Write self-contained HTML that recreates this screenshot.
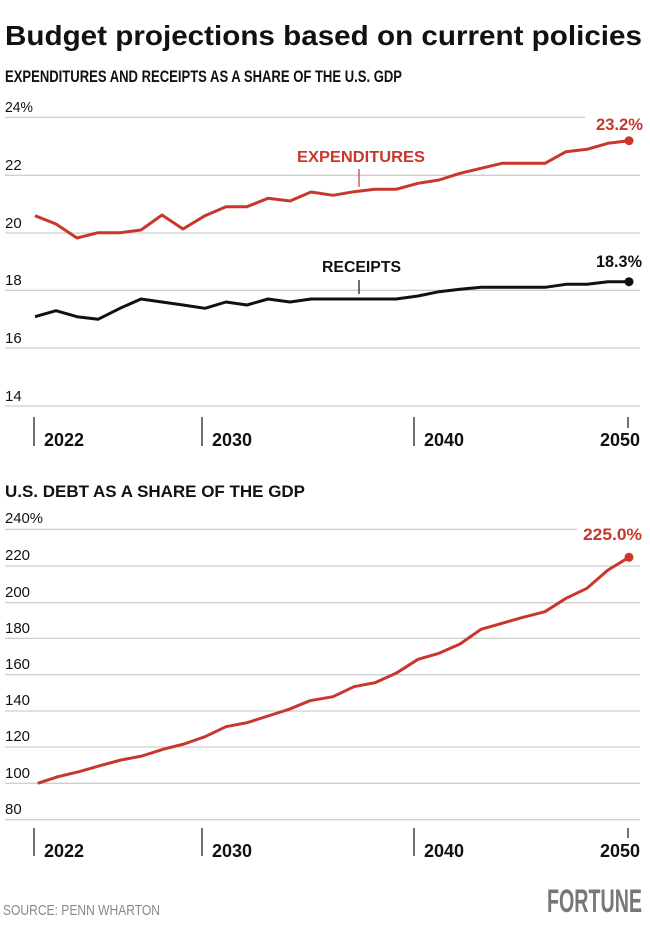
<!DOCTYPE html>
<html><head><meta charset="utf-8"><style>
html,body{margin:0;padding:0;background:#fff;}
svg{display:block;}
text{font-family:"Liberation Sans",sans-serif;}
</style></head><body>
<svg width="650" height="931" viewBox="0 0 650 931" xmlns="http://www.w3.org/2000/svg">
<text x="5" y="45" font-size="28" font-weight="bold" fill="#111" textLength="637" lengthAdjust="spacingAndGlyphs">Budget projections based on current policies</text>
<text x="5" y="82" font-size="17" font-weight="bold" fill="#111" textLength="397" lengthAdjust="spacingAndGlyphs">EXPENDITURES AND RECEIPTS AS A SHARE OF THE U.S. GDP</text>

<g stroke="#cfcfcf" stroke-width="1.3">
<line x1="5" x2="585" y1="117.3" y2="117.3"/>
<line x1="5" x2="640" y1="175.3" y2="175.3"/>
<line x1="5" x2="640" y1="233" y2="233"/>
<line x1="5" x2="640" y1="290.3" y2="290.3"/>
<line x1="5" x2="640" y1="348" y2="348"/>
<line x1="5" x2="640" y1="406" y2="406"/>
</g>
<g font-size="15" fill="#111">
<text x="5" y="112" textLength="28" lengthAdjust="spacingAndGlyphs">24%</text>
<text x="5" y="170">22</text>
<text x="5" y="228">20</text>
<text x="5" y="285">18</text>
<text x="5" y="343">16</text>
<text x="5" y="401">14</text>
</g>
<g stroke="#111" stroke-width="1.2">
<line x1="34" x2="34" y1="417" y2="446"/>
<line x1="202" x2="202" y1="417" y2="446"/>
<line x1="414" x2="414" y1="417" y2="446"/>
<line x1="628" x2="628" y1="417" y2="428"/>
</g>
<g font-size="18" font-weight="bold" fill="#111">
<text x="44" y="446">2022</text>
<text x="212" y="446">2030</text>
<text x="424" y="446">2040</text>
<text x="600" y="446">2050</text>
</g>

<polyline fill="none" stroke="#c9372c" stroke-width="3" stroke-linejoin="round" points="35,215.7 56,224 77,238 98,232.7 120,232.7 141,230 162,215 183,229 205,215.7 226,206.7 247,206.7 268,198.3 290,201 311,192 333,195.3 354,191.7 375,189.3 396,189.3 418,183.3 439,180 460,173.3 481,168.3 502,163.3 523,163.3 545,163.3 566,151.7 587,149.3 608,143.3 629,140.7"/>
<circle cx="629" cy="140.7" r="4.5" fill="#c9372c"/>
<polyline fill="none" stroke="#111" stroke-width="3" stroke-linejoin="round" points="35,316.7 56,310.7 77,316.7 98,319.3 120,308.3 141,299 162,302 183,305 205,308.3 226,302 247,305 268,299 290,302 311,299 333,299 354,299 375,299 396,299 418,296 439,291.7 460,289.3 481,287.3 502,287.3 523,287.3 545,287.3 566,284.3 587,284.3 608,281.7 629,281.7"/>
<circle cx="629" cy="281.7" r="4.5" fill="#111"/>

<text x="297" y="162" font-size="16" font-weight="bold" fill="#c9372c" textLength="128" lengthAdjust="spacingAndGlyphs">EXPENDITURES</text>
<line x1="359" x2="359" y1="169" y2="187" stroke="#c9372c" stroke-width="1.2"/>
<text x="322" y="272" font-size="16" font-weight="bold" fill="#111" textLength="79" lengthAdjust="spacingAndGlyphs">RECEIPTS</text>
<line x1="359" x2="359" y1="280" y2="294" stroke="#111" stroke-width="1.2"/>
<text x="596" y="130" font-size="17" font-weight="bold" fill="#c9372c" textLength="47" lengthAdjust="spacingAndGlyphs">23.2%</text>
<text x="596" y="267" font-size="17" font-weight="bold" fill="#111" textLength="46" lengthAdjust="spacingAndGlyphs">18.3%</text>

<text x="5" y="497" font-size="17" font-weight="bold" fill="#111" textLength="300" lengthAdjust="spacingAndGlyphs">U.S. DEBT AS A SHARE OF THE GDP</text>
<g stroke="#cfcfcf" stroke-width="1.3">
<line x1="5" x2="577" y1="529.3" y2="529.3"/>
<line x1="5" x2="640" y1="566" y2="566"/>
<line x1="5" x2="640" y1="602.7" y2="602.7"/>
<line x1="5" x2="640" y1="638.3" y2="638.3"/>
<line x1="5" x2="640" y1="674.7" y2="674.7"/>
<line x1="5" x2="640" y1="711" y2="711"/>
<line x1="5" x2="640" y1="747" y2="747"/>
<line x1="5" x2="640" y1="783.3" y2="783.3"/>
<line x1="5" x2="640" y1="819.7" y2="819.7"/>
</g>
<g font-size="15" fill="#111">
<text x="5" y="523" textLength="38" lengthAdjust="spacingAndGlyphs">240%</text>
<text x="5" y="560">220</text>
<text x="5" y="597">200</text>
<text x="5" y="633">180</text>
<text x="5" y="669">160</text>
<text x="5" y="705">140</text>
<text x="5" y="741">120</text>
<text x="5" y="778">100</text>
<text x="5" y="814">80</text>
</g>
<g stroke="#111" stroke-width="1.2">
<line x1="34" x2="34" y1="828" y2="856"/>
<line x1="202" x2="202" y1="828" y2="856"/>
<line x1="414" x2="414" y1="828" y2="856"/>
<line x1="628" x2="628" y1="828" y2="838"/>
</g>
<g font-size="18" font-weight="bold" fill="#111">
<text x="44" y="857">2022</text>
<text x="212" y="857">2030</text>
<text x="424" y="857">2040</text>
<text x="600" y="857">2050</text>
</g>
<polyline fill="none" stroke="#c9372c" stroke-width="3" stroke-linejoin="round" points="37.7,783.3 58,776.7 79,771.7 100,765.7 121,760 142,756 163,749.3 184,744 205,736.7 226,726.7 247,722.7 268,716 289,709.3 310,700.7 333,696.7 354,686.7 375,682.7 396,673.3 418,659.3 439,653.3 460,644 481,629.3 502,623.3 523,617.3 545,611.7 566,598.3 587,588.3 608,570 629,557.3"/>
<circle cx="629" cy="557.3" r="4.5" fill="#c9372c"/>
<text x="583" y="540" font-size="17" font-weight="bold" fill="#c9372c" textLength="59" lengthAdjust="spacingAndGlyphs">225.0%</text>

<text x="3" y="915" font-size="15" fill="#888" textLength="157" lengthAdjust="spacingAndGlyphs">SOURCE: PENN WHARTON</text>
<text x="547" y="912" font-size="32" font-weight="bold" fill="#777" textLength="95" lengthAdjust="spacingAndGlyphs">FORTUNE</text>
</svg>
</body></html>
